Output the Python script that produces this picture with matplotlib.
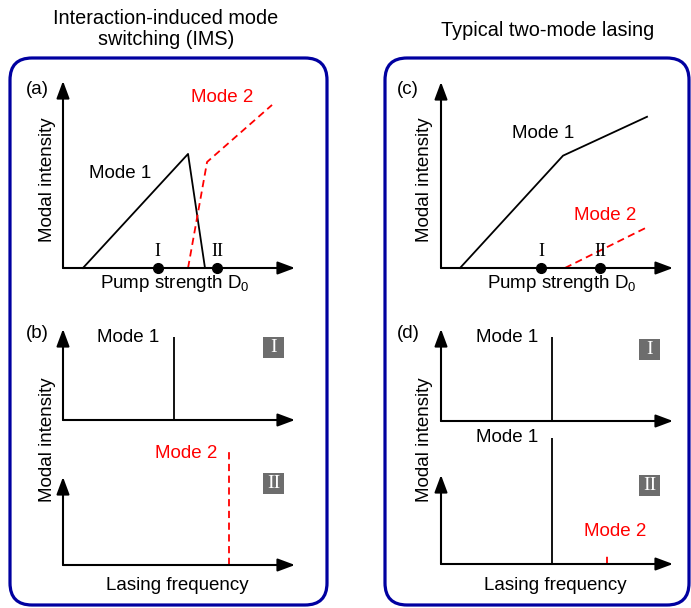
import matplotlib
matplotlib.use("Agg")
import matplotlib.pyplot as plt
from matplotlib.patches import FancyBboxPatch, Rectangle

plt.rcParams['font.family'] = ['Liberation Sans', 'DejaVu Sans']
plt.rcParams['mathtext.fontset'] = 'custom'
plt.rcParams['mathtext.rm'] = 'Liberation Sans'
plt.rcParams['mathtext.it'] = 'Liberation Sans:italic'

# ---- data (arbitrary units) ----
# (a) interaction-induced mode switching, intensity vs pump
pump_a_m1 = [0.86, 5.39, 6.12]
int_a_m1 = [0.0, 6.1, 0.0]
pump_a_m2 = [5.39, 6.21, 9.01]
int_a_m2 = [0.0, 5.67, 8.72]
states_a = [4.09, 6.64]

# (c) typical two-mode lasing
pump_c_m1 = [0.82, 5.26, 8.88]
int_c_m1 = [0.0, 6.04, 8.13]
pump_c_m2 = [5.34, 8.88]
int_c_m2 = [0.0, 2.19]
states_c = [4.31, 6.85]

state_labels = ['I', 'II']

# (b), (d) spectra
freq_m1 = 4.78
freq_m2 = 7.16
spec_b_I = [9.1]          # mode 1
spec_b_II = [12.8]        # mode 2
spec_d_I = [9.1]          # mode 1
spec_d_II = [14.2, 1.0]   # mode 1, mode 2

W, H = 691, 608
fig = plt.figure(figsize=(W / 100, H / 100), dpi=100)

bg = fig.add_axes([0, 0, 1, 1])
bg.set_xlim(0, W)
bg.set_ylim(H, 0)
bg.axis('off')

blue = '#0000a0'
for x0, x1 in [(10, 327), (385, 689)]:
    bg.add_patch(FancyBboxPatch((x0, 58), x1 - x0, 605 - 58,
                                boxstyle='round,pad=0,rounding_size=22',
                                fc='none', ec=blue, lw=2.3))

fs = 13.5
bg.text(166, 29, 'Interaction-induced mode\nswitching (IMS)', ha='center',
        va='center', fontsize=14.3, linespacing=1.15)
bg.text(548, 30, 'Typical two-mode lasing', ha='center', va='center', fontsize=14.3)


def panel(ox, oy, w, h):
    ax = fig.add_axes([ox / W, 1 - oy / H, w / W, h / H])
    ax.set_xlim(0, 10)
    ax.set_ylim(0, 10)
    ax.axis('off')
    arr = dict(arrowstyle='-|>,head_length=0.75,head_width=0.28', color='k',
               lw=1.5, shrinkA=0, shrinkB=0, mutation_scale=14)
    ax.annotate('', xy=(10, 0), xytext=(0, 0), arrowprops=arr, annotation_clip=False)
    ax.annotate('', xy=(0, 10), xytext=(0, 0), arrowprops=arr, annotation_clip=False)
    return ax


def states(ax, xs):
    ax.plot(xs, [0] * len(xs), 'o', color='k', ms=7, clip_on=False, zorder=5)
    for x, lab in zip(xs, state_labels):
        ax.text(x, 0.45, lab, ha='center', va='bottom', family='Liberation Serif',
                fontsize=13)


dash = (0, (4, 2.5))

# (a)
ax = panel(63, 268, 232, 187)
ax.plot(pump_a_m1, int_a_m1, color='k', lw=1.3, clip_on=False)
ax.plot(pump_a_m2, int_a_m2, color='red', lw=1.3, ls=dash, clip_on=False)
states(ax, states_a)

# (c)
ax = panel(441, 268, 232, 186)
ax.plot(pump_c_m1, int_c_m1, color='k', lw=1.3, clip_on=False)
ax.plot(pump_c_m2, int_c_m2, color='red', lw=1.3, ls=dash, clip_on=False)
states(ax, states_c)

# (b)
ax = panel(63, 420, 232, 91)
ax.vlines([freq_m1], 0, spec_b_I, color='k', lw=1.3, clip_on=False)
ax = panel(63, 565, 232, 88)
ax.vlines([freq_m2], 0, spec_b_II, color='red', lw=1.3, ls=dash, clip_on=False)

# (d)
ax = panel(441, 421, 232, 92)
ax.vlines([freq_m1], 0, spec_d_I, color='k', lw=1.3, clip_on=False)
ax = panel(441, 564, 232, 89)
ax.vlines([freq_m1], 0, spec_d_II[0], color='k', lw=1.3, clip_on=False)
ax.vlines([freq_m2], 0, spec_d_II[1], color='red', lw=1.3, ls=dash, clip_on=False)

# labels
for x, y, s in [(37, 89, '(a)'), (408, 89, '(c)'), (37, 333, '(b)'), (408, 333, '(d)')]:
    bg.text(x, y, s, ha='center', va='center', fontsize=fs)

for x, y in [(48, 180), (425, 180), (48, 440), (425, 440)]:
    bg.text(x, y, 'Modal intensity', rotation=90, ha='center', va='center', fontsize=fs)

for x, y in [(175, 284), (562, 284)]:
    bg.text(x, y, 'Pump strength D$_0$', ha='center', va='center', fontsize=fs)
for x, y in [(177, 586), (555, 585)]:
    bg.text(x, y, 'Lasing frequency', ha='center', va='center', fontsize=fs)

for x, y, s, c in [(120, 173, 'Mode 1', 'k'), (222, 97, 'Mode 2', 'red'),
                   (543, 133, 'Mode 1', 'k'), (605, 215, 'Mode 2', 'red'),
                   (128, 337, 'Mode 1', 'k'), (186, 453, 'Mode 2', 'red'),
                   (507, 337, 'Mode 1', 'k'), (507, 438, 'Mode 1', 'k'),
                   (615, 532, 'Mode 2', 'red')]:
    bg.text(x, y, s, ha='center', va='center', fontsize=fs, color=c)

gray = '#6d6d6d'
for x, y, s in [(274, 347, 'I'), (274, 483, 'II'), (650, 349, 'I'), (650, 485, 'II')]:
    bg.add_patch(Rectangle((x - 10.5, y - 10.5), 21, 21, fc=gray, ec='none'))
    bg.text(x, y + 1, s, ha='center', va='center', color='white',
            family='Liberation Serif', fontsize=14)

fig.savefig('out.png', dpi=100)
